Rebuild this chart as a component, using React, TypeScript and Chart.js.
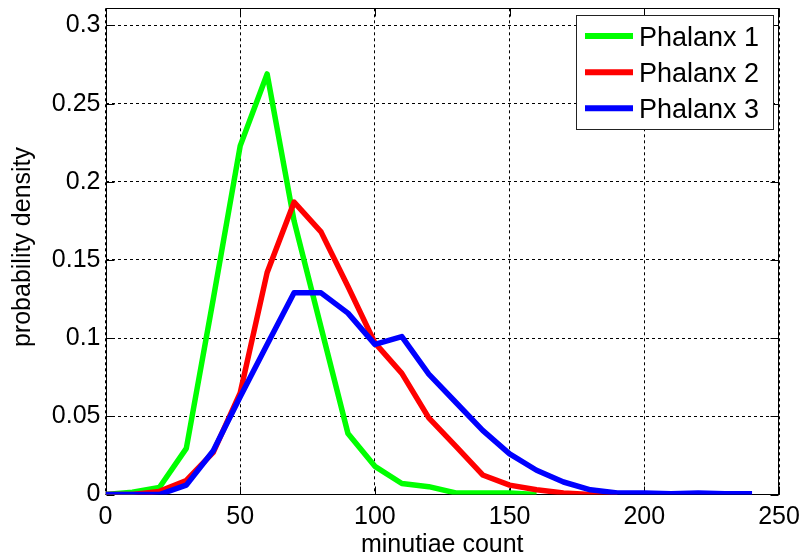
import React, { useEffect, useRef } from "react";
import { Chart, registerables } from "chart.js";

Chart.register(...registerables);

const xValues = [0, 10, 20, 30, 40, 50, 60, 70, 80, 90, 100, 110, 120, 130, 140, 150, 160, 170, 180, 190, 200, 210, 220, 230, 240];
const phalanx1 = [0, 0.0014, 0.0045, 0.0295, 0.125, 0.223, 0.269, 0.175, 0.107, 0.039, 0.018, 0.007, 0.005, 0.001, 0.001, 0.001, 0.0];
const phalanx2 = [0, 0, 0.002, 0.009, 0.027, 0.065, 0.142, 0.187, 0.168, 0.133, 0.097, 0.0775, 0.049, 0.031, 0.0125, 0.006, 0.003, 0.001, 0, 0];
const phalanx3 = [0, 0, 0, 0.006, 0.028, 0.0625, 0.096, 0.129, 0.129, 0.116, 0.096, 0.101, 0.077, 0.059, 0.041, 0.026, 0.0155, 0.008, 0.003, 0.001, 0.001, 0.0005, 0.001, 0.0005, 0.0005];
const seriesLabels = ["Phalanx 1", "Phalanx 2", "Phalanx 3"];
const seriesColors = ["#00ff00", "#ff0000", "#0000ff"];
const xTicks = [0, 50, 100, 150, 200, 250];
const yTicks = [0, 0.05, 0.1, 0.15, 0.2, 0.25, 0.3];
const xTitle = "minutiae count";
const yTitle = "probability density";

const FONT = "'Liberation Sans', Arial, Helvetica, sans-serif";

const boxPlugin = {
  id: "matlabBox",
  beforeDatasetsDraw(chart: any) {
    const { ctx, chartArea } = chart;
    const { left, right, top, bottom } = chartArea;
    const L = Math.round(left) + 0.5;
    const R = Math.round(right) - 0.5;
    const T = Math.round(top) + 0.5;
    const B = Math.round(bottom) - 0.5;
    ctx.save();
    ctx.strokeStyle = "#000";
    ctx.lineWidth = 1;
    ctx.setLineDash([]);
    ctx.strokeRect(L, T, R - L, B - T);
    const tl = 8;
    const xs = chart.scales.x;
    const ys = chart.scales.y;
    ctx.beginPath();
    xTicks.forEach((v) => {
      const px = Math.round(xs.getPixelForValue(v)) + 0.5;
      ctx.moveTo(px, B);
      ctx.lineTo(px, B - tl);
      ctx.moveTo(px, T);
      ctx.lineTo(px, T + tl);
    });
    yTicks.forEach((v) => {
      const py = Math.round(ys.getPixelForValue(v)) + 0.5;
      ctx.moveTo(L, py);
      ctx.lineTo(L + tl, py);
      ctx.moveTo(R, py);
      ctx.lineTo(R - tl, py);
    });
    ctx.stroke();
    ctx.restore();
  },
  afterDraw(chart: any) {
    const { ctx, chartArea } = chart;
    ctx.save();
    ctx.fillStyle = "#000";
    ctx.font = `25px ${FONT}`;
    ctx.textAlign = "center";
    ctx.textBaseline = "alphabetic";
    ctx.fillText(xTitle, (chartArea.left + chartArea.right) / 2, 552);
    ctx.save();
    ctx.translate(30, 247);
    ctx.rotate(-Math.PI / 2);
    ctx.fillText(yTitle, 0, 0);
    ctx.restore();
    const bx = 576.5, by = 15.5, bw = 197, bh = 114;
    ctx.fillStyle = "#fff";
    ctx.fillRect(bx, by, bw, bh);
    ctx.strokeStyle = "#222";
    ctx.lineWidth = 1;
    ctx.strokeRect(bx, by, bw, bh);
    ctx.font = `27px ${FONT}`;
    ctx.textAlign = "left";
    ctx.textBaseline = "alphabetic";
    const rows = [36, 72.3, 108.3];
    seriesLabels.forEach((lab, i) => {
      ctx.strokeStyle = seriesColors[i];
      ctx.lineWidth = 6;
      ctx.beginPath();
      ctx.moveTo(585, rows[i]);
      ctx.lineTo(633, rows[i]);
      ctx.stroke();
      ctx.fillStyle = "#000";
      ctx.fillText(lab, 639, rows[i] + 9.5);
    });
    ctx.restore();
  },
};

export default function App() {
  const ref = useRef<HTMLCanvasElement | null>(null);
  useEffect(() => {
    if (!ref.current) return;
    const seriesData = [phalanx1, phalanx2, phalanx3];
    const chart = new Chart(ref.current, {
      type: "line",
      data: {
        datasets: seriesData.map((arr, i) => ({
          label: seriesLabels[i],
          data: arr.map((y, j) => ({ x: xValues[j], y })),
          borderColor: seriesColors[i],
          backgroundColor: seriesColors[i],
          borderWidth: 5.5,
          pointRadius: 0,
          tension: 0,
          fill: false,
          borderJoinStyle: "round" as const,
          borderCapStyle: "butt" as const,
          order: 3 - i,
        })),
      },
      options: {
        animation: false,
        responsive: false,
        events: [],
        layout: { padding: { top: 8.3, right: 26, left: 0, bottom: 0 } },
        plugins: {
          legend: { display: false },
          tooltip: { enabled: false },
          title: { display: false },
        },
        scales: {
          x: {
            type: "linear",
            min: 0,
            max: 250,
            afterBuildTicks: (s: any) => {
              s.ticks = xTicks.map((v) => ({ value: v }));
            },
            afterFit: (s: any) => {
              s.height = 62.5;
              s.paddingLeft = 0;
              s.paddingRight = 0;
              s.paddingTop = 0;
              s.paddingBottom = 0;
            },
            grid: { color: "#000", lineWidth: 1, drawTicks: false },
            border: { display: false, dash: [3, 3] },
            ticks: {
              padding: 8,
              color: "#000",
              font: { size: 25, family: FONT },
              maxRotation: 0,
              autoSkip: false,
              callback: (v: any) => String(v),
            },
          },
          y: {
            type: "linear",
            min: 0,
            max: 0.311,
            afterBuildTicks: (s: any) => {
              s.ticks = yTicks.map((v) => ({ value: v }));
            },
            afterFit: (s: any) => {
              s.width = 105.5;
              s.paddingLeft = 0;
              s.paddingRight = 0;
              s.paddingTop = 0;
              s.paddingBottom = 0;
            },
            grid: { color: "#000", lineWidth: 1, drawTicks: false },
            border: { display: false, dash: [3, 3] },
            ticks: {
              padding: 5,
              color: "#000",
              font: { size: 25, family: FONT },
              autoSkip: false,
              callback: (v: any) => String(+Number(v).toFixed(2)),
            },
          },
        },
      },
      plugins: [boxPlugin],
    });
    return () => chart.destroy();
  }, []);
  return (
    <div style={{ position: "absolute", left: 0, top: 0, width: 805, height: 557, background: "#fff" }}>
      <canvas ref={ref} width={805} height={557} style={{ display: "block" }} />
    </div>
  );
}
